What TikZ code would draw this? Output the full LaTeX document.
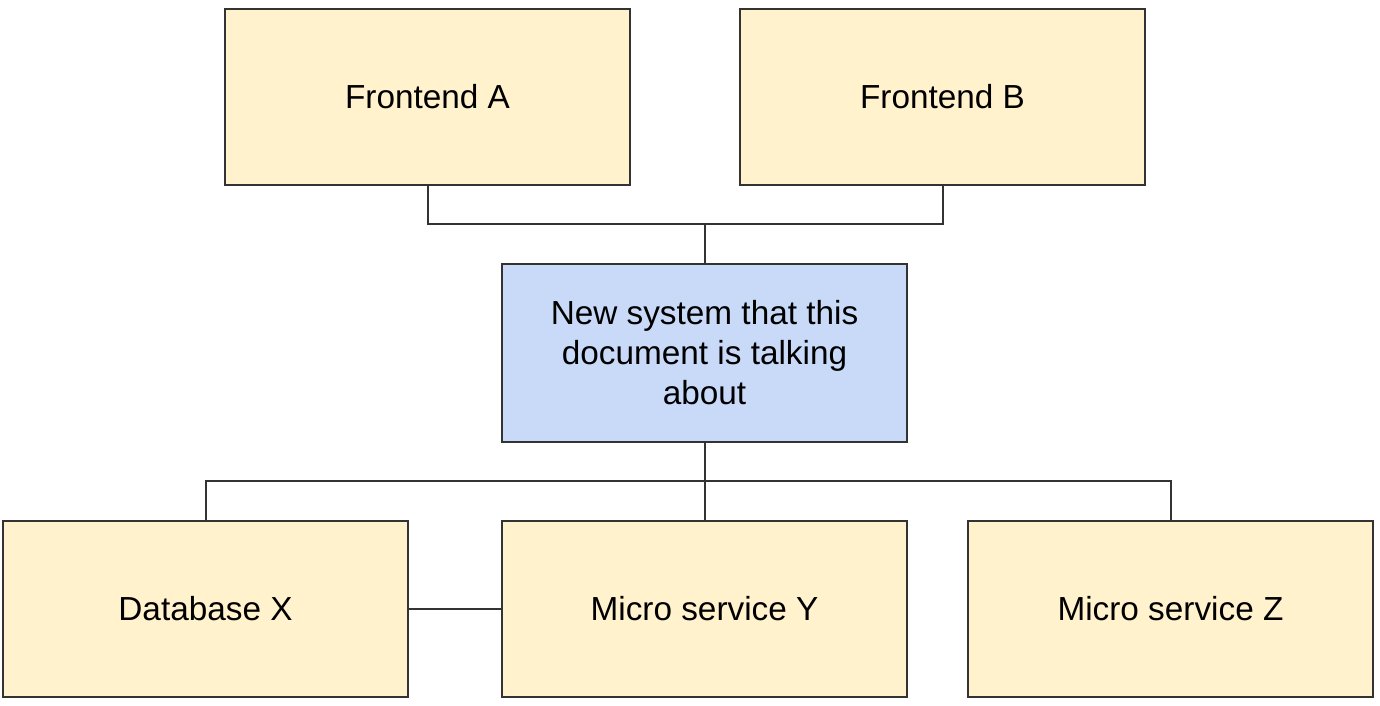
\documentclass[tikz,border=0pt]{standalone}
\usepackage{fontspec}
\setmainfont{Liberation Sans}
\definecolor{boxyellow}{HTML}{FFF2CC}
\definecolor{boxblue}{HTML}{C9DAF8}
\definecolor{edge}{HTML}{333333}
\begin{document}
\begin{tikzpicture}[x=0.75pt,y=-0.75pt,
  block/.style={draw=edge, line width=1.5pt, rectangle,
    minimum width=303.75pt, minimum height=132pt, inner sep=0pt,
    font=\fontsize{25}{30}\selectfont, text=black, align=center},
  yblock/.style={block, fill=boxyellow},
  bblock/.style={block, fill=boxblue},
  wire/.style={draw=edge, line width=1.5pt}]
  \useasboundingbox (0,0) rectangle (1380,706);
  % upper tier
  \node[yblock] (fa) at (427.5,97) {Frontend A};
  \node[yblock] (fb) at (942.5,97) {Frontend B};
  % central system
  \node[bblock, minimum height=133.5pt] (ns) at (704.5,353) {New system that this\\document is talking\\about};
  % lower tier
  \node[yblock] (db) at (205.5,609) {Database X};
  \node[yblock] (my) at (704.5,609) {Micro service Y};
  \node[yblock] (mz) at (1170.5,609) {Micro service Z};
  % connectors
  \coordinate (topbus) at (704.5,224);
  \coordinate (lowbus) at (704.5,481);
  \draw[wire] (fa.south) |- (topbus) -| (fb.south);
  \draw[wire] (topbus) -- (ns.north);
  \draw[wire] (ns.south) -- (lowbus);
  \draw[wire] (db.north) |- (lowbus) -| (mz.north);
  \draw[wire] (lowbus) -- (my.north);
  \draw[wire] (db.east) -- (my.west);
\end{tikzpicture}
\end{document}
